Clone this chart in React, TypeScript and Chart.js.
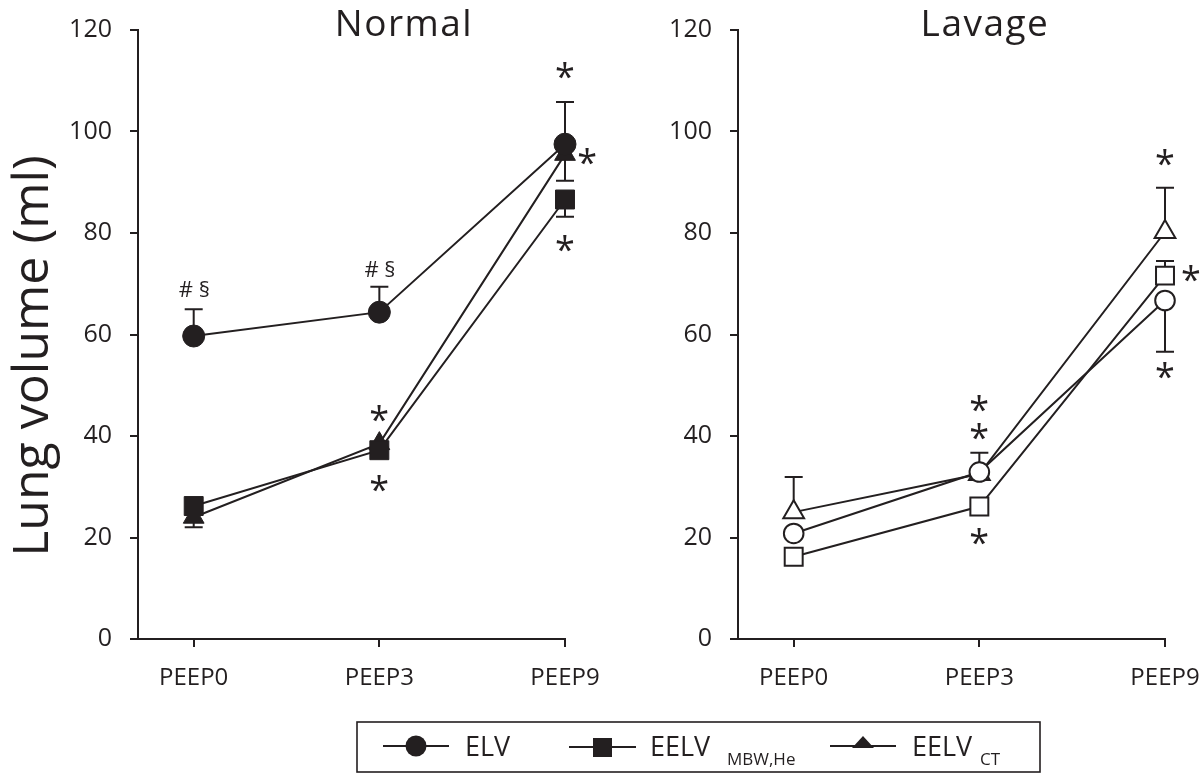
import React, { useEffect, useRef } from 'react';
import { Chart, registerables } from 'chart.js';
Chart.register(...registerables);

// ---------- data ----------
const categories = ['PEEP0', 'PEEP3', 'PEEP9'];
const yTicks = [0, 20, 40, 60, 80, 100, 120];

// Normal lungs
const normalELV = [59.7, 64.4, 97.5];
const normalELVErrUp = [5.3, 5.0, 8.3];
const normalMBW = [26.2, 37.2, 86.6];
const normalMBWErrDown = [null, null, 3.4];
const normalCT = [24.0, 38.5, 95.5];
const normalCTErrDown = [2.0, null, 5.2];

// Lavage lungs
const lavageELV = [20.8, 32.9, 66.7];
const lavageELVErrDown = [null, null, 10.1];
const lavageMBW = [16.2, 26.1, 71.6];
const lavageMBWErrUp = [null, null, 2.9];
const lavageCT = [25.0, 32.5, 80.2];
const lavageCTErrUp = [6.9, 4.2, 8.7];

// significance marks (x in category units, y in ml)
const normalMarkText = ['# §', '# §', '*', '*', '*', '*', '*'];
const normalMarkX = [0, 1, 1, 1, 2, 2.12, 2];
const normalMarkY = [69.0, 72.9, 44.5, 30.7, 112.1, 95.0, 78.0];

const lavageMarkText = ['*', '*', '*', '*', '*', '*'];
const lavageMarkX = [1, 1, 1, 2, 2.14, 2];
const lavageMarkY = [46.5, 40.8, 20.1, 94.8, 72.1, 53.0];

const INK = '#231f20';
const FONT = "'Open Sans', 'Noto Sans', sans-serif";
const CANVAS_W = 620;

type Series = {
  label: string;
  values: number[];
  up?: (number | null)[];
  down?: (number | null)[];
  style: string;
  radius: number;
  filled: boolean;
};

function makePlugin(title: string, titleX: number, showYTitle: boolean, markText: string[], markX: number[], markY: number[], series: Series[]) {
  return {
    id: 'panelDecor',
    beforeDatasetsDraw(chart: any) {
      const ctx = chart.ctx;
      const xs = chart.scales.x;
      const ys = chart.scales.y;
      ctx.save();
      ctx.strokeStyle = INK;
      ctx.lineWidth = 2;
      series.forEach((s) => {
        s.values.forEach((v, i) => {
          const px = xs.getPixelForValue(i);
          const py = ys.getPixelForValue(v);
          const ends: number[] = [];
          if (s.up && s.up[i] != null) ends.push(v + (s.up[i] as number));
          if (s.down && s.down[i] != null) ends.push(v - (s.down[i] as number));
          ends.forEach((e) => {
            const pe = ys.getPixelForValue(e);
            ctx.beginPath();
            ctx.moveTo(px, py);
            ctx.lineTo(px, pe);
            ctx.moveTo(px - 9, pe);
            ctx.lineTo(px + 9, pe);
            ctx.stroke();
          });
        });
      });
      ctx.restore();
    },
    afterDatasetsDraw(chart: any) {
      const ctx = chart.ctx;
      const xs = chart.scales.x;
      const ys = chart.scales.y;
      ctx.save();
      ctx.fillStyle = INK;
      ctx.textAlign = 'left';
      ctx.textBaseline = 'alphabetic';
      markText.forEach((t, i) => {
        ctx.font = t === '*' ? `36px ${FONT}` : `22px ${FONT}`;
        const X = xs.getPixelForValue(markX[i]);
        const Y = ys.getPixelForValue(markY[i]);
        const m = ctx.measureText(t);
        const x = X - (m.actualBoundingBoxRight - m.actualBoundingBoxLeft) / 2;
        const y = Y + (m.actualBoundingBoxAscent - m.actualBoundingBoxDescent) / 2;
        ctx.fillText(t, x, y);
      });
      ctx.restore();
    },
    afterDraw(chart: any) {
      const ctx = chart.ctx;
      ctx.save();
      ctx.fillStyle = INK;
      ctx.font = `37px ${FONT}`;
      ctx.textAlign = 'center';
      ctx.textBaseline = 'alphabetic';
      try { (ctx as any).letterSpacing = '1.5px'; } catch (e) {}
      ctx.fillText(title, titleX, 36);
      try { (ctx as any).letterSpacing = '0px'; } catch (e) {}
      if (showYTitle) {
        ctx.translate(48, 356);
        ctx.rotate(-Math.PI / 2);
        ctx.font = `50px ${FONT}`;
        ctx.textAlign = 'center';
        ctx.fillText('Lung volume (ml)', 0, 0);
      }
      ctx.restore();
    },
  };
}

function buildConfig(series: Series[], plugin: any) {
  return {
    type: 'line' as const,
    data: {
      datasets: series.map((s) => ({
        label: s.label,
        data: s.values.map((v, i) => ({ x: i, y: v })),
        borderColor: INK,
        borderWidth: 2,
        pointStyle: s.style,
        pointRadius: s.radius,
        pointHoverRadius: s.radius,
        pointBackgroundColor: s.filled ? INK : '#ffffff',
        pointBorderColor: INK,
        pointBorderWidth: s.filled ? 1 : 2,
        tension: 0,
        fill: false,
        clip: false,
      })),
    },
    options: {
      responsive: false,
      animation: false,
      events: [],
      layout: { padding: { left: 0, right: CANVAS_W - 565, top: 30, bottom: 0 } },
      plugins: { legend: { display: false }, tooltip: { enabled: false }, title: { display: false } },
      scales: {
        x: {
          type: 'linear',
          min: -0.3,
          max: 2,
          afterBuildTicks: (s: any) => { s.ticks = categories.map((_, i) => ({ value: i })); },
          afterFit: (s: any) => { s.height = 61; s.paddingLeft = 0; s.paddingRight = 0; },
          ticks: {
            callback: (v: any) => categories[v] ?? '',
            font: { family: FONT, size: 24 },
            color: INK,
            padding: 17,
            maxRotation: 0,
            autoSkip: false,
          },
          grid: { drawOnChartArea: false, drawTicks: true, tickLength: 8, color: INK, lineWidth: 2 },
          border: { display: true, color: INK, width: 2 },
        },
        y: {
          min: 0,
          max: 120,
          afterBuildTicks: (s: any) => { s.ticks = yTicks.map((v) => ({ value: v })); },
          afterFit: (s: any) => { s.width = 138; s.paddingTop = 0; s.paddingBottom = 0; },
          ticks: { font: { family: FONT, size: 25 }, color: INK, padding: 18 },
          grid: { drawOnChartArea: false, drawTicks: true, tickLength: 8, color: INK, lineWidth: 2 },
          border: { display: true, color: INK, width: 2 },
        },
      },
    },
    plugins: [plugin],
  };
}

function Panel({ left, title, titleX, showYTitle, series, markText, markX, markY }: any) {
  const ref = useRef<HTMLCanvasElement | null>(null);
  useEffect(() => {
    if (!ref.current) return;
    const plugin = makePlugin(title, titleX, showYTitle, markText, markX, markY, series);
    const chart = new Chart(ref.current, buildConfig(series, plugin) as any);
    return () => chart.destroy();
  }, []);
  return (
    <canvas
      ref={ref}
      width={CANVAS_W}
      height={700}
      style={{ position: 'absolute', left, top: 0, width: CANVAS_W, height: 700, display: 'block' }}
    />
  );
}

const normalSeries: Series[] = [
  { label: 'ELV', values: normalELV, up: normalELVErrUp, style: 'circle', radius: 11, filled: true },
  { label: 'EELV MBW,He', values: normalMBW, down: normalMBWErrDown, style: 'rect', radius: 13.4, filled: true },
  { label: 'EELV CT', values: normalCT, down: normalCTErrDown, style: 'triangle', radius: 12, filled: true },
];

const lavageSeries: Series[] = [
  { label: 'ELV', values: lavageELV, down: lavageELVErrDown, style: 'circle', radius: 9.8, filled: false },
  { label: 'EELV MBW,He', values: lavageMBW, up: lavageMBWErrUp, style: 'rect', radius: 12.7, filled: false },
  { label: 'EELV CT', values: lavageCT, up: lavageCTErrUp, style: 'triangle', radius: 12, filled: false },
];

function Legend() {
  const txt = { fontFamily: FONT, fill: INK } as any;
  return (
    <svg width={1200} height={774} style={{ position: 'absolute', left: 0, top: 0, pointerEvents: 'none' }}>
      <rect x={357} y={722} width={683} height={50} fill="none" stroke={INK} strokeWidth={1.6} />
      <line x1={383} y1={746} x2={449} y2={746} stroke={INK} strokeWidth={2} />
      <circle cx={416} cy={746} r={10.5} fill={INK} />
      <text x={465} y={756} fontSize={27} {...txt}>ELV</text>

      <line x1={569} y1={747} x2={636} y2={747} stroke={INK} strokeWidth={2} />
      <rect x={593} y={738} width={19} height={19} fill={INK} />
      <text x={650} y={756} fontSize={27} {...txt}>EELV</text>
      <text x={727} y={765} fontSize={17} {...txt}>MBW,He</text>

      <line x1={830} y1={746} x2={896} y2={746} stroke={INK} strokeWidth={2} />
      <polygon points="863,736 874,748 852,748" fill={INK} />
      <text x={912} y={756} fontSize={27} {...txt}>EELV</text>
      <text x={980} y={765} fontSize={17} {...txt}>CT</text>
    </svg>
  );
}

export default function App() {
  useEffect(() => {
    document.body.style.margin = '0';
  }, []);
  return (
    <div style={{ position: 'absolute', left: 0, top: 0, width: 1200, height: 774, background: '#fff', overflow: 'hidden' }}>
      <Panel
        left={0}
        title="Normal"
        titleX={404}
        showYTitle={true}
        series={normalSeries}
        markText={normalMarkText}
        markX={normalMarkX}
        markY={normalMarkY}
      />
      <Panel
        left={600}
        title="Lavage"
        titleX={385}
        showYTitle={false}
        series={lavageSeries}
        markText={lavageMarkText}
        markX={lavageMarkX}
        markY={lavageMarkY}
      />
      <Legend />
    </div>
  );
}
